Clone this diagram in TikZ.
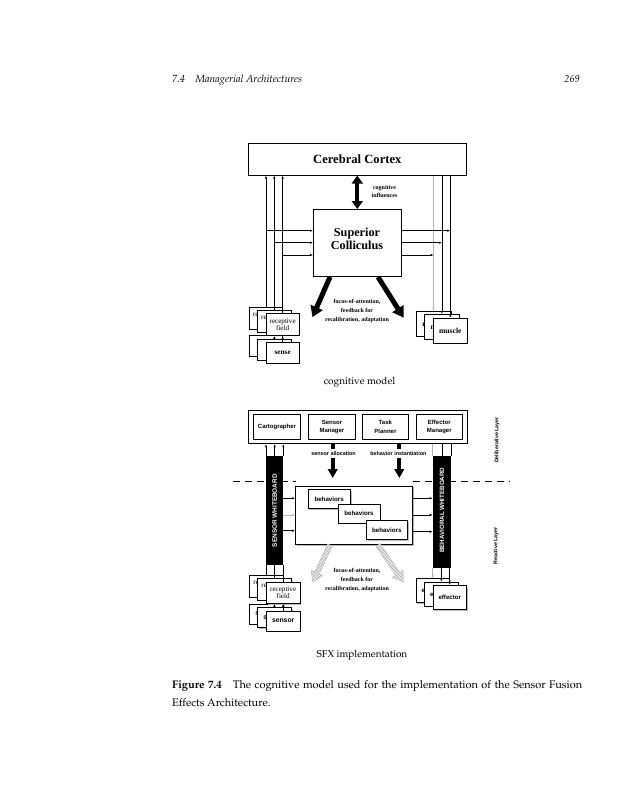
\documentclass[tikz,border=0pt]{standalone}
\usepackage[T1]{fontenc}
\usepackage{fontspec}
\newfontfamily\tms{Liberation Serif}
\newfontfamily\hlv{Liberation Sans}
\newcommand\pal{\fontencoding{T1}\fontfamily{ppl}\selectfont}
\usetikzlibrary{arrows.meta,calc,shadows,patterns}
\newcommand\fatarr[6]{%
  \coordinate (fh) at ($(#3)!#6!(#2)$);
  \path[#1] ($(#2)!#4!90:(#3)$) -- ($(fh)!#4!90:(#3)$) -- ($(fh)!#5!90:(#3)$) -- (#3)
    -- ($(fh)!#5!-90:(#3)$) -- ($(fh)!#4!-90:(#3)$) -- ($(#2)!#4!-90:(#3)$) -- cycle;}
\begin{document}
\begin{tikzpicture}[x=1pt,y=-1pt,
  ln/.style={line width=0.6pt},
  arr/.style={line width=0.6pt,-{Latex[length=3pt,width=2.4pt]}},
  bx/.style={draw,line width=0.6pt,fill=white,inner sep=0pt,anchor=north west,align=center},
  sbx/.style={bx,drop shadow={shadow xshift=1.2pt,shadow yshift=-1.2pt,fill=gray!55,opacity=1}},
  pg/.style={inner sep=0pt,font=\pal\fontsize{10}{12}\selectfont},
  tiny/.style={inner sep=0pt,align=center,font=\tms\bfseries\fontsize{6}{8.6}\selectfont},
  rf/.style={font=\tms\fontsize{7.1}{7.8}\selectfont},
  hb/.style={font=\hlv\bfseries\fontsize{6}{8.3}\selectfont},
  fat/.style={line width=3.7pt}
]
\useasboundingbox (0,0) rectangle (620,800);
\fill[white] (0,0) rectangle (620,800);

% header
\node[pg,anchor=base west,font=\pal\fontsize{10.3}{12}\selectfont\itshape] (hdr) at (172,82) {7.4\quad Managerial Architectures};
\node[pg,anchor=base east,font=\pal\fontsize{10.3}{12}\selectfont\itshape] (pgno) at (580,82) {269};

% ================= top: cognitive model =================
\node[bx,minimum width=218,minimum height=32,font=\tms\bfseries\fontsize{12.6}{14}\selectfont] (cortex) at (248,143) {Cerebral Cortex};
\node[bx,minimum width=88,minimum height=67] (sc) at (313,209) {};
\node[inner sep=0pt,align=center,font=\tms\bfseries\fontsize{12.2}{13.3}\selectfont] (sct) at (357,238.5) {Superior\\Colliculus};

% sense stack
\node[bx,minimum width=33.3,minimum height=21,font=\tms\bfseries\fontsize{7.3}{8}\selectfont] (s1) at (249,335) {sense};
\node[bx,minimum width=33.3,minimum height=21,font=\tms\bfseries\fontsize{7.3}{8}\selectfont] (s2) at (257.3,338.5) {sense};
\node[bx,minimum width=33.3,minimum height=21,font=\tms\bfseries\fontsize{7.3}{8}\selectfont] (s3) at (265.7,342) {sense};
% receptive field stack
\node[bx,rf,minimum width=33.3,minimum height=22] (r1) at (249,306.7) {receptive\\field};
\node[bx,rf,minimum width=33.3,minimum height=22] (r2) at (257.3,310) {receptive\\field};
\node[bx,rf,minimum width=33.3,minimum height=22] (r3) at (265.7,313.3) {receptive\\field};
\draw[arr] (s2.north) -- (s2.north |- r3.south);
\draw[arr] (s3.north) -- (r3.south);

% muscle stack
\node[bx,minimum width=34.6,minimum height=25,font=\tms\bfseries\fontsize{7.6}{8}\selectfont] (m1) at (416,310.7) {muscle};
\node[bx,minimum width=34.6,minimum height=25,font=\tms\bfseries\fontsize{7.6}{8}\selectfont] (m2) at (424.3,314) {muscle};
\node[bx,minimum width=34.6,minimum height=25,font=\tms\bfseries\fontsize{7.6}{8}\selectfont] (m3) at (432.7,317.7) {muscle};

% left verticals
\draw[arr] (r1.north) -- (r1.north |- cortex.south);
\draw[arr] (r2.north) -- (r2.north |- cortex.south);
\draw[arr] (r3.north) -- (r3.north |- cortex.south);
\draw[arr] (r1.north |- 0,230.7) -- (sc.west |- 0,230.7);
\draw[arr] (r2.north |- 0,242.7) -- (sc.west |- 0,242.7);
\draw[arr] (r3.north |- 0,255) -- (sc.west |- 0,255);
% right verticals
\draw[arr,gray!60] (m1.north |- cortex.south) -- (m1.north);
\draw[arr] (m2.north |- cortex.south) -- (m2.north);
\draw[arr] (m3.north |- cortex.south) -- (m3.north);
\draw[arr] (sc.east |- 0,230.7) -- (m3.north |- 0,230.7);
\draw[arr] (sc.east |- 0,242.7) -- (m2.north |- 0,242.7);
\draw[arr] (sc.east |- 0,255) -- (m1.north |- 0,255);

% thick double arrow
\draw[line width=4pt,{Triangle[length=8pt,width=11pt]}-{Triangle[length=8pt,width=11pt]}] (cortex.south) -- (sc.north);
\node[tiny,font=\tms\bfseries\fontsize{6}{8.7}\selectfont] (cog) at (384.5,191.5) {cognitive\\influences};

% diagonal arrows
\coordinate (fa1) at (330,277); \coordinate (fa2) at (312.5,317);
\coordinate (fb1) at (378,277); \coordinate (fb2) at (403.5,317.5);
\fatarr{fill=black}{fa1}{fa2}{2.5pt}{6.8pt}{10.5pt}
\fatarr{fill=black}{fb1}{fb2}{2.5pt}{6.8pt}{10.5pt}
\node[tiny] (foc1) at (357,311) {focus-of-attention,\\feedback for\\recalibration, adaptation};

\node[pg,anchor=base] (cap1) at (359.5,384.5) {cognitive model};

% ================= bottom: SFX implementation =================
\draw[line width=0.9pt,dash pattern=on 7pt off 5pt] (233,481) coordinate (dl) -- (510,481) coordinate (dr);
\fill[white] (296,476) rectangle (411.5,485);

\node[bx,minimum width=218.4,minimum height=33.3,line width=0.9pt] (delib) at (248.3,410) {};
\node[bx,hb,minimum width=46.7,minimum height=25.3] (cart) at (253.3,414) {Cartographer};
\node[bx,hb,minimum width=46.7,minimum height=25.3] (smgr) at (308.3,414) {Sensor\\Manager};
\node[bx,hb,minimum width=46.7,minimum height=25.3] (tplan) at (361.7,414) {Task\\Planner};
\node[bx,hb,minimum width=46.6,minimum height=25.3] (emgr) at (415.7,414) {Effector\\Manager};

\node[fill=black,inner sep=0pt,anchor=north west,minimum width=17,minimum height=109] (swb) at (266,456) {};
\node[rotate=90,inner sep=0pt,text=white,font=\hlv\bfseries\fontsize{6.4}{7}\selectfont] (swbt) at (swb.center) {SENSOR WHITEBOARD};
\node[fill=black,inner sep=0pt,anchor=north west,minimum width=18,minimum height=112] (bwb) at (432.7,456) {};
\node[rotate=90,inner sep=0pt,text=white,font=\hlv\bfseries\fontsize{6.2}{7}\selectfont] (bwbt) at ($(bwb.center)+(0,-2)$) {BEHAVIORAL WHITEBOARD};

\draw[arr] (swb.north west) -- (swb.north west |- delib.south);
\draw[arr] (swb.north) -- (swb.north |- delib.south);
\draw[arr] (swb.north east) -- (swb.north east |- delib.south);
\draw[ln,gray!60] (bwb.north west |- delib.south) -- (bwb.north west);
\draw[ln] (bwb.north |- delib.south) -- (bwb.north);
\draw[ln] (bwb.north east |- delib.south) -- (bwb.north east);

% sensor allocation / behavior instantiation
\coordinate (sa) at (332.7,443); \coordinate (bi) at (399.3,443);
\draw[fat] (sa) -- ++(0,6);
\draw[fat] (bi) -- ++(0,6);
\node[inner sep=0pt,font=\hlv\bfseries\fontsize{5.4}{6}\selectfont] (sal) at (333.5,453.3) {sensor allocation};
\node[inner sep=0pt,font=\hlv\bfseries\fontsize{5.4}{6}\selectfont] (bil) at (398.3,453.3) {behavior instantiation};
\draw[fat,-{Triangle[length=9pt,width=9.5pt]}] (sa |- 0,458) -- (sa |- 0,478);
\draw[fat,-{Triangle[length=9pt,width=9.5pt]}] (bi |- 0,458) -- (bi |- 0,478);

% behaviors
\node[sbx,minimum width=117.3,minimum height=58.3] (beh) at (295,485.7) {};
\node[sbx,font=\hlv\bfseries\fontsize{6.2}{7}\selectfont,minimum width=42.3,minimum height=19] (b1) at (307.7,489.3) {behaviors};
\node[sbx,font=\hlv\bfseries\fontsize{6.2}{7}\selectfont,minimum width=42,minimum height=19] (b2) at (337.7,503.5) {behaviors};
\node[sbx,font=\hlv\bfseries\fontsize{6.2}{7}\selectfont,minimum width=41,minimum height=19] (b3) at (366,520.3) {behaviors};

\draw[arr] (swb.east |- 0,498.3) -- (beh.west |- 0,498.3);
\draw[arr,gray!60] (swb.east |- 0,515) -- (beh.west |- 0,515);
\draw[arr] (swb.east |- 0,530.7) -- (beh.west |- 0,530.7);
\draw[arr] (beh.east |- 0,498.3) -- (bwb.west |- 0,498.3);
\draw[arr] (beh.east |- 0,515) -- (bwb.west |- 0,515);
\draw[arr] (beh.east |- 0,531.7) -- (bwb.west |- 0,531.7);

\coordinate (ga1) at (330,545); \coordinate (ga2) at (312.7,582);
\coordinate (gb1) at (378,545); \coordinate (gb2) at (403.3,582);
\fatarr{fill=gray!15}{ga1}{ga2}{2.5pt}{6.5pt}{10pt}
\fatarr{pattern=north east lines,pattern color=gray!70,draw=gray!55,line width=0.4pt}{ga1}{ga2}{2.5pt}{6.5pt}{10pt}
\fatarr{fill=gray!15}{gb1}{gb2}{2.5pt}{6.5pt}{10pt}
\fatarr{pattern=north west lines,pattern color=gray!70,draw=gray!55,line width=0.4pt}{gb1}{gb2}{2.5pt}{6.5pt}{10pt}
\node[tiny] (foc2) at (357,580) {focus-of-attention,\\feedback for\\recalibration, adaptation};

% sensor stack
\node[sbx,minimum width=33.7,minimum height=20,font=\hlv\bfseries\fontsize{6.8}{8}\selectfont] (sb1) at (249.3,603.5) {sensor};
\node[sbx,minimum width=33.7,minimum height=20,font=\hlv\bfseries\fontsize{6.8}{8}\selectfont] (sb2) at (257.3,607) {sensor};
\node[sbx,minimum width=33.7,minimum height=20,font=\hlv\bfseries\fontsize{6.8}{8}\selectfont] (sb3) at (266,610.5) {sensor};
% receptive stack
\node[sbx,rf,minimum width=33.7,minimum height=21.5] (rb1) at (249.3,575) {receptive\\field};
\node[sbx,rf,minimum width=33.7,minimum height=21.5] (rb2) at (257.3,578.3) {receptive\\field};
\node[sbx,rf,minimum width=33.7,minimum height=21.5] (rb3) at (266,581.7) {receptive\\field};
\draw[arr] (sb2.north) -- (sb2.north |- rb3.south);
\draw[arr] (sb3.north) -- (rb3.south);
\draw[ln] (rb1.north) -- (rb1.north |- swb.south);
\draw[ln] (rb2.north) -- (rb2.north |- swb.south);
\draw[ln] (rb3.north) -- (rb3.north |- swb.south);

% effector stack
\node[sbx,minimum width=33.5,minimum height=24,font=\hlv\bfseries\fontsize{6.1}{8}\selectfont] (eb1) at (415.7,578.3) {effector};
\node[sbx,minimum width=33.5,minimum height=24,font=\hlv\bfseries\fontsize{6.1}{8}\selectfont] (eb2) at (424.3,581.7) {effector};
\node[sbx,minimum width=33.5,minimum height=24,font=\hlv\bfseries\fontsize{6.1}{8}\selectfont] (eb3) at (432.7,585) {effector};
\draw[arr,gray!60] (eb1.north |- bwb.south) -- (eb1.north);
\draw[arr] (eb2.north |- bwb.south) -- (eb2.north);
\draw[arr] (eb3.north |- bwb.south) -- (eb3.north);

% layer labels
\node[rotate=90,inner sep=0pt,font=\hlv\bfseries\fontsize{5.3}{6}\selectfont] (dlay) at (497,440) {Deliberative Layer};
\node[rotate=90,inner sep=0pt,font=\hlv\bfseries\fontsize{5.3}{6}\selectfont] (rlay) at (496,546) {Reactive Layer};

\node[pg,anchor=base] (cap2) at (362,657) {SFX implementation};

% caption
\node[pg,anchor=base west,font=\pal\fontsize{11}{12}\selectfont] (cap3) at (172,688) {\makebox[410pt][s]{\textbf{Figure 7.4}\quad The cognitive model used for the implementation of the Sensor Fusion}};
\node[pg,anchor=base west,font=\pal\fontsize{11}{12}\selectfont] (cap4) at (172,706) {Effects Architecture.};
\end{tikzpicture}
\end{document}
